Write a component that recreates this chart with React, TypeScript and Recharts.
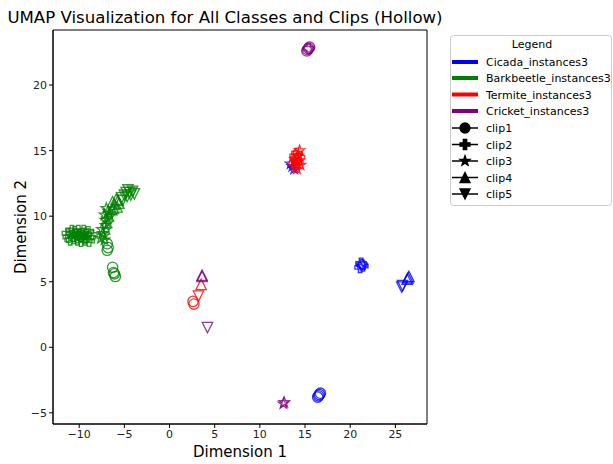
import React from 'react';
import { ScatterChart, Scatter, XAxis, YAxis, ReferenceArea } from 'recharts';

type Pt = [number, number];

const xTicks = [-10, -5, 0, 5, 10, 15, 20, 25];
const yTicks = [-5, 0, 5, 10, 15, 20];

const classNames = ['Cicada_instances3', 'Barkbeetle_instances3', 'Termite_instances3', 'Cricket_instances3'];
const classColors = ['#0000ff', '#008000', '#ff0000', '#800080'];
const clipNames = ['clip1', 'clip2', 'clip3', 'clip4', 'clip5'];

// Cicada
const cicadaClip1: Pt[] = [[16.4, -3.8], [16.6, -3.6], [16.5, -3.7], [16.7, -3.5]];
const cicadaClip2: Pt[] = [[21.1, 6.1], [21.3, 6.3], [21.4, 6.2], [21.2, 6.4]];
const cicadaClip3: Pt[] = [[13.4, 14.0], [13.6, 13.8], [13.8, 13.6]];
const cicadaClip4: Pt[] = [[26.3, 5.2], [26.5, 5.4], [26.4, 5.3]];
const cicadaClip5: Pt[] = [[25.7, 4.6], [25.8, 4.7]];

// Barkbeetle
const barkClip1: Pt[] = [[-6.9, 7.9], [-6.9, 7.4], [-6.8, 7.6], [-6.3, 6.1], [-6.2, 5.7], [-6.0, 5.4], [-6.1, 5.6]];
const barkClip2: Pt[] = [
  [-11.2, 8.4], [-10.9, 8.7], [-10.6, 8.3], [-10.3, 8.6], [-10.1, 8.9], [-9.9, 8.4],
  [-9.6, 8.7], [-9.4, 8.2], [-9.2, 8.6], [-9.0, 8.8], [-8.8, 8.4], [-10.7, 8.5],
  [-9.8, 8.1], [-9.5, 8.9], [-11.0, 8.2], [-8.6, 8.6], [-11.3, 8.7], [-10.5, 8.8],
  [-10.2, 8.2], [-9.7, 8.5], [-9.3, 8.4], [-8.9, 8.1], [-10.8, 8.9], [-10.0, 8.6],
];
const barkClip3: Pt[] = [
  [-7.6, 8.3], [-7.4, 8.7], [-7.2, 8.2], [-7.5, 9.0], [-7.1, 9.3], [-6.9, 9.8],
  [-7.2, 10.1], [-6.8, 10.4], [-6.6, 10.0], [-7.0, 10.6], [-7.3, 8.5], [-7.0, 9.0],
  [-6.8, 9.5], [-7.1, 9.7], [-6.7, 10.2],
];
const barkClip4: Pt[] = [
  [-6.4, 10.5], [-6.1, 10.9], [-5.8, 10.7], [-6.3, 11.1], [-5.6, 11.0], [-5.9, 11.3],
  [-6.2, 10.6], [-5.7, 11.2],
];
const barkClip5: Pt[] = [
  [-5.3, 11.4], [-5.0, 11.6], [-4.7, 11.5], [-4.4, 11.8], [-4.1, 11.9], [-4.6, 12.0],
  [-3.9, 11.7], [-5.2, 11.2], [-4.8, 11.8], [-4.3, 11.6],
];

// Termite
const termiteClip1: Pt[] = [[2.6, 3.5], [2.7, 3.3]];
const termiteClip2: Pt[] = [
  [13.8, 14.0], [14.0, 14.4], [14.2, 14.1], [14.4, 14.5], [14.1, 14.8], [13.9, 14.6],
];
const termiteClip3: Pt[] = [
  [14.0, 13.8], [14.3, 14.2], [14.5, 13.9], [13.9, 14.3], [14.2, 14.6], [14.4, 15.0], [14.1, 13.6],
];
const termiteClip4: Pt[] = [[3.5, 4.8]];
const termiteClip5: Pt[] = [[3.2, 3.9]];

// Cricket
const cricketClip1: Pt[] = [[15.3, 22.7], [15.5, 22.9], [15.4, 22.8], [15.2, 22.6]];
const cricketClip2: Pt[] = [[15.4, 22.8]];
const cricketClip3: Pt[] = [[12.6, -4.3], [12.7, -4.2]];
const cricketClip4: Pt[] = [[3.6, 5.5], [3.6, 5.4]];
const cricketClip5: Pt[] = [[4.2, 1.5]];

const seriesList = [
  { cls: 0, clip: 0, pts: cicadaClip1 },
  { cls: 0, clip: 1, pts: cicadaClip2 },
  { cls: 0, clip: 2, pts: cicadaClip3 },
  { cls: 0, clip: 3, pts: cicadaClip4 },
  { cls: 0, clip: 4, pts: cicadaClip5 },
  { cls: 1, clip: 0, pts: barkClip1 },
  { cls: 1, clip: 1, pts: barkClip2 },
  { cls: 1, clip: 2, pts: barkClip3 },
  { cls: 1, clip: 3, pts: barkClip4 },
  { cls: 1, clip: 4, pts: barkClip5 },
  { cls: 2, clip: 0, pts: termiteClip1 },
  { cls: 2, clip: 1, pts: termiteClip2 },
  { cls: 2, clip: 2, pts: termiteClip3 },
  { cls: 2, clip: 3, pts: termiteClip4 },
  { cls: 2, clip: 4, pts: termiteClip5 },
  { cls: 3, clip: 0, pts: cricketClip1 },
  { cls: 3, clip: 1, pts: cricketClip2 },
  { cls: 3, clip: 2, pts: cricketClip3 },
  { cls: 3, clip: 3, pts: cricketClip4 },
  { cls: 3, clip: 4, pts: cricketClip5 },
];

const FONT = '"DejaVu Sans", sans-serif';

function markerPath(clip: number, s: number): string {
  // s = half size
  if (clip === 1) {
    const a = s * 0.34;
    return `M${-a},${-s}H${a}V${-a}H${s}V${a}H${a}V${s}H${-a}V${a}H${-s}V${-a}H${-a}Z`;
  }
  if (clip === 2) {
    const pts: string[] = [];
    for (let i = 0; i < 10; i++) {
      const r = i % 2 === 0 ? s * 1.05 : s * 0.42;
      const ang = -Math.PI / 2 + (i * Math.PI) / 5;
      pts.push(`${(r * Math.cos(ang)).toFixed(2)},${(r * Math.sin(ang)).toFixed(2)}`);
    }
    return 'M' + pts.join('L') + 'Z';
  }
  if (clip === 3) return `M0,${-s}L${s},${s}L${-s},${s}Z`;
  if (clip === 4) return `M0,${s}L${s},${-s}L${-s},${-s}Z`;
  return '';
}

const Marker = ({ clip, color, cx, cy, filled, s }: any) => {
  if (clip === 0) {
    return (
      <circle cx={cx} cy={cy} r={s} fill={filled ? color : 'none'} stroke={color}
        strokeWidth={1.3} strokeOpacity={filled ? 1 : 0.8} />
    );
  }
  return (
    <path d={markerPath(clip, s)} transform={`translate(${cx},${cy})`}
      fill={filled ? color : 'none'} stroke={color} strokeWidth={1.3}
      strokeOpacity={filled ? 1 : 0.8} strokeLinejoin="miter" />
  );
};

const LegendBox = () => {
  const rowY = [62, 78, 94.5, 111, 128, 144.5, 161, 177.5, 194];
  return (
    <svg width={163} height={172} style={{ position: 'absolute', left: 450, top: 35 }}>
      <rect x={0.5} y={0.5} width={161} height={170} rx={3} fill="#fff" fillOpacity={0.8} stroke="#cccccc" />
      <text x={82} y={13} textAnchor="middle" fontFamily={FONT} fontSize={11} fill="#000">Legend</text>
      {classNames.map((n, i) => (
        <g key={n}>
          <line x1={2} x2={28} y1={rowY[i] - 35} y2={rowY[i] - 35} stroke={classColors[i]} strokeWidth={4} />
          <text x={36} y={rowY[i] - 35 + 4} fontFamily={FONT} fontSize={11} fill="#000">{n}</text>
        </g>
      ))}
      {clipNames.map((n, j) => (
        <g key={n}>
          <line x1={2} x2={28} y1={rowY[j + 4] - 35} y2={rowY[j + 4] - 35} stroke="#000" strokeWidth={1.5} />
          <Marker clip={j} color="#000" cx={15} cy={rowY[j + 4] - 35} filled s={5} />
          <text x={36} y={rowY[j + 4] - 35 + 4} fontFamily={FONT} fontSize={11} fill="#000">{n}</text>
        </g>
      ))}
    </svg>
  );
};

const tickStyle = { fontSize: 11, fill: '#222', fontFamily: FONT };
const fmtTick = (v: number) => String(v).replace('-', '\u2212');

export default function App() {
  return (
    <div style={{ position: 'absolute', left: 0, top: 0, width: 613, height: 464, background: '#fff' }}>
      <svg width={613} height={30} style={{ position: 'absolute', left: 0, top: 0 }}>
        <text x={225} y={23} textAnchor="middle" fontFamily={FONT} fontSize={16.6} fill="#000">
          UMAP Visualization for All Classes and Clips (Hollow)
        </text>
      </svg>
      <div style={{ position: 'absolute', left: 0, top: 0 }}>
        <ScatterChart width={613} height={464} margin={{ top: 30, right: 186, bottom: 0, left: 0 }}>
          <XAxis type="number" dataKey="x" domain={[-12.9, 28.5]} ticks={xTicks} allowDataOverflow
            height={40} tick={tickStyle} tickSize={4} stroke="#000" interval={0} tickFormatter={fmtTick}
            label={{ value: 'Dimension 1', position: 'insideBottom', offset: 7, fontSize: 15, fill: '#000', fontFamily: FONT }} />
          <YAxis type="number" dataKey="y" domain={[-5.85, 24.2]} ticks={yTicks} allowDataOverflow
            width={53} tick={tickStyle} tickSize={4} stroke="#000" interval={0} tickFormatter={fmtTick}
            label={{ value: 'Dimension 2', angle: -90, position: 'insideLeft', offset: 21, fontSize: 15, fill: '#000', fontFamily: FONT, style: { textAnchor: 'middle' } }} />
          <ReferenceArea x1={-12.9} x2={28.5} y1={-5.85} y2={24.2} fill="none" stroke="#000" strokeWidth={1} />
          {seriesList.map((s, i) => (
            <Scatter key={i} data={s.pts.map(([x, y]) => ({ x, y }))} isAnimationActive={false}
              shape={(p: any) => <Marker clip={s.clip} color={classColors[s.cls]} cx={p.cx} cy={p.cy} s={5.2} />} />
          ))}
        </ScatterChart>
      </div>
      <LegendBox />
    </div>
  );
}
